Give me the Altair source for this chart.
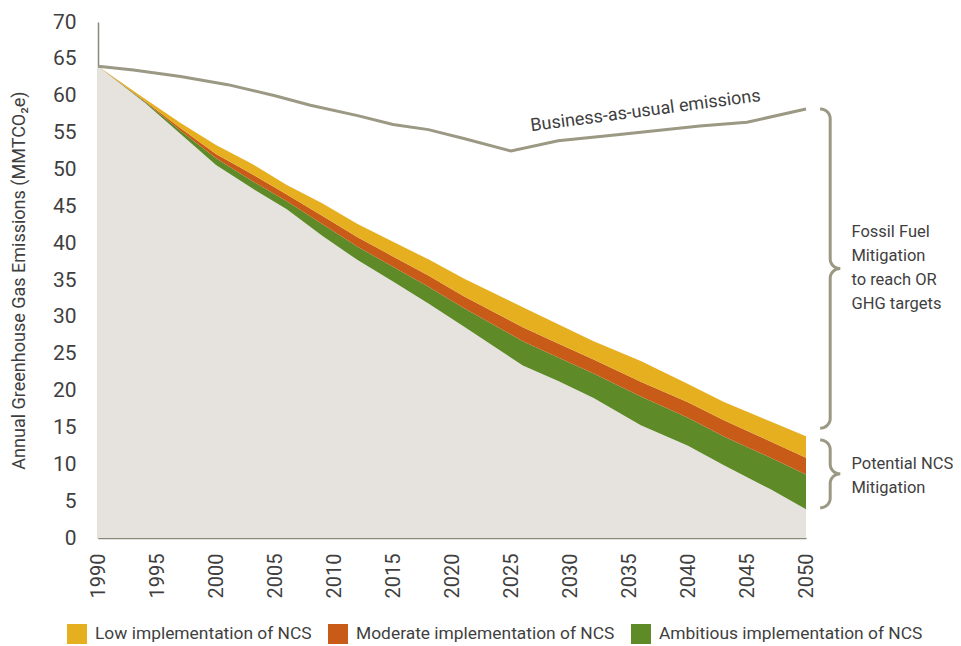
import altair as alt
import numpy as np
import pandas as pd

# ---------------- data ----------------
years = [1990, 1994, 1997, 2000, 2003, 2006, 2009, 2012, 2015, 2018, 2021,
         2026, 2029, 2032, 2036, 2040, 2043, 2047, 2050]
remaining = [64.0, 59.0, 54.8, 50.6, 47.5, 44.6, 41.0, 37.7, 34.8, 31.8, 28.7,
             23.4, 21.3, 19.0, 15.3, 12.5, 9.9, 6.6, 3.9]
ambitious = [0, 0.15, 0.45, 0.9, 1.0, 1.1, 1.6, 1.8, 2.0, 2.3, 2.5,
             3.3, 3.2, 3.3, 3.9, 3.8, 3.9, 4.3, 4.7]
moderate = [0, 0.1, 0.35, 0.6, 0.9, 0.9, 1.1, 1.3, 1.4, 1.5, 1.6,
            1.9, 1.9, 1.9, 2.0, 2.1, 2.2, 2.2, 2.3]
low = [0, 0.3, 0.7, 1.2, 1.4, 1.3, 1.7, 1.8, 2.0, 2.2, 2.4,
       2.7, 2.6, 2.5, 2.8, 2.5, 2.5, 2.7, 2.9]

bau_years = [1990, 1993, 1997, 2001, 2005, 2008, 2012, 2015, 2018, 2021, 2025,
             2029, 2034, 2041, 2045, 2050]
bau_values = [64.0, 63.5, 62.6, 61.5, 60.0, 58.7, 57.3, 56.1, 55.4, 54.2, 52.5,
              53.9, 54.7, 55.9, 56.4, 58.2]

series_names = ["Low implementation of NCS",
                "Moderate implementation of NCS",
                "Ambitious implementation of NCS"]
series_colors = ["#E6AF20", "#C85B18", "#5E8A27"]
x_ticks = list(range(1990, 2051, 5))
y_ticks = list(range(0, 71, 5))

FONT = "Roboto"
TXT = "#3f3f3f"
GREY_LINE = "#9B9884"

# ---------------- tables ----------------
base_df = pd.DataFrame({"year": years, "lo": 0.0, "hi": remaining})

rows = []
cum = np.array(remaining, dtype=float)
for name, vals in [(series_names[2], ambitious), (series_names[1], moderate), (series_names[0], low)]:
    top = cum + np.array(vals, dtype=float)
    for y, l, h in zip(years, cum, top):
        rows.append({"year": y, "series": name, "lo": l, "hi": h})
    cum = top
band_df = pd.DataFrame(rows)

bau_df = pd.DataFrame({"year": bau_years, "value": bau_values})


def brace(y_top, y_bot, x0, rx, ry, bid, n=12):
    ym = (y_top + y_bot) / 2
    pts = []
    t = np.linspace(0, np.pi / 2, n)
    pts += [(x0 + rx * np.sin(a), y_top - ry + ry * np.cos(a)) for a in t]
    pts += [(x0 + 2 * rx - rx * np.cos(a), ym + ry - ry * np.sin(a)) for a in t]
    pts += [(x0 + 2 * rx - rx * np.sin(a), ym - ry + ry * np.cos(a)) for a in t]
    pts += [(x0 + rx * np.cos(a), y_bot + ry - ry * np.sin(a)) for a in t]
    return [{"bx": p[0], "by": p[1], "ord": i, "bid": bid} for i, p in enumerate(pts)]


brace_df = pd.DataFrame(brace(bau_values[-1], 14.9, 2051.2, 0.85, 1.3, "a")
                        + brace(13.3, 4.1, 2051.2, 0.85, 1.3, "b"))

xscale = alt.Scale(domain=[1990, 2050], nice=False, zero=False)
yscale = alt.Scale(domain=[0, 70], nice=False)

xaxis = alt.Axis(values=x_ticks, tickCount=13, format="d", labelAngle=270, ticks=False, grid=False,
                 labelPadding=15, domainColor="#8a8878", domainWidth=1.5,
                 labelFontSize=20, labelColor=TXT, title=None, labelFont=FONT,
                 labelOverlap=False)
yaxis = alt.Axis(values=y_ticks, tickCount=15, ticks=False, grid=False, labelPadding=22,
                 domainColor="#8a8878", domainWidth=1.5,
                 labelFontSize=21, labelColor=TXT, labelFont=FONT,
                 labelOverlap=False,
                 title="Annual Greenhouse Gas Emissions (MMTCO\u2082e)",
                 titleFontSize=18, titleFontWeight="normal", titleColor=TXT,
                 titleFont=FONT, titlePadding=24)

base = alt.Chart(base_df).mark_area(color="#E6E3DF", opacity=1).encode(
    x=alt.X("year:Q", scale=xscale, axis=xaxis),
    y=alt.Y("hi:Q", scale=yscale, axis=yaxis),
    y2="lo:Q",
)

bands = alt.Chart(band_df).mark_area(opacity=1).encode(
    x=alt.X("year:Q", scale=xscale, axis=xaxis),
    y=alt.Y("hi:Q", scale=yscale, axis=yaxis),
    y2="lo:Q",
    color=alt.Color("series:N",
                    scale=alt.Scale(domain=series_names, range=series_colors),
                    sort=series_names,
                    legend=alt.Legend(title=None, orient="none", direction="horizontal",
                                      legendX=-31, legendY=602,
                                      symbolType="square", symbolSize=400,
                                      symbolStrokeWidth=0, labelFontSize=17.4,
                                      labelFont=FONT, labelColor=TXT,
                                      labelOffset=8, columnPadding=16,
                                      labelLimit=400)),
)

bau = alt.Chart(bau_df).mark_line(color=GREY_LINE, strokeWidth=3).encode(
    x=alt.X("year:Q", scale=xscale, axis=xaxis),
    y=alt.Y("value:Q", scale=yscale, axis=yaxis),
)

braces = alt.Chart(brace_df).mark_line(color=GREY_LINE, strokeWidth=3, interpolate="linear").encode(
    x=alt.X("bx:Q", scale=xscale, axis=xaxis),
    y=alt.Y("by:Q", scale=yscale, axis=yaxis),
    order="ord:Q",
    detail="bid:N",
)

bau_label = alt.Chart().mark_text(text="Business-as-usual emissions", angle=352.5,
                                  font=FONT, fontSize=18, color=TXT,
                                  align="center", baseline="middle").encode(
    x=alt.datum(2036.4), y=alt.datum(57.9))

ff_label = alt.Chart().mark_text(text=["Fossil Fuel", "Mitigation", "to reach OR", "GHG targets"],
                                 font=FONT, fontSize=16.5, color=TXT, lineHeight=24,
                                 align="left", baseline="middle").encode(
    x=alt.datum(2053.85), y=alt.datum(41.5))

ncs_label = alt.Chart().mark_text(text=["Potential NCS", "Mitigation"],
                                  font=FONT, fontSize=16.5, color=TXT, lineHeight=24,
                                  align="left", baseline="middle").encode(
    x=alt.datum(2053.85), y=alt.datum(10.0))

chart = alt.layer(base, bands, bau, braces, bau_label, ff_label, ncs_label).properties(
    width=708, height=516,
    autosize=alt.AutoSizeParams(type="none"),
    padding={"left": 90, "top": 14, "right": 147, "bottom": 108},
).configure(background="white").configure_view(strokeWidth=0, stroke="transparent")

chart.save("out.html", embed_options={"renderer": "svg", "actions": False})
